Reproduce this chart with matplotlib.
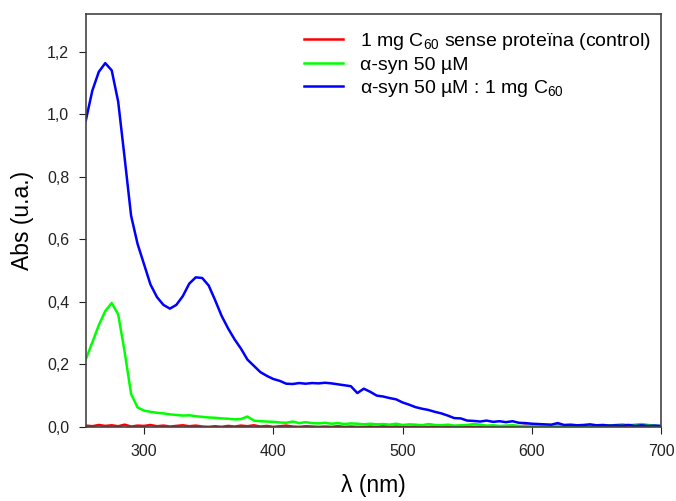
import numpy as np
import matplotlib
matplotlib.use("Agg")
import matplotlib.pyplot as plt
from matplotlib.ticker import FuncFormatter

plt.rcParams['font.family'] = ['Liberation Sans', 'DejaVu Sans']
plt.rcParams['mathtext.fontset'] = 'custom'
plt.rcParams['mathtext.rm'] = 'Liberation Sans'
plt.rcParams['mathtext.default'] = 'rm'

# wavelength grid (nm), 5 nm steps
wl = np.arange(255, 701, 5)

# C60 alone (control)
control = [0.004, 0.002, 0.006, 0.003, 0.005, 0.002, 0.007, 0.001, 0.004, 0.003,
           0.006, 0.002, 0.004, 0.001, 0.003, 0.005, 0.002, 0.004, 0.001, 0.0,
           0.002, 0.0, 0.003, 0.001, 0.004, 0.002, 0.005, 0.001, 0.003, 0.0,
           0.002, 0.004, 0.001, 0.0, 0.002, 0.001, 0.0, 0.001, 0.0, 0.002,
           0.0, 0.001, 0.0, 0.0, 0.001, 0.0, 0.002, 0.0, 0.001, 0.0,
           0.0, 0.001, 0.0, 0.0, 0.001, 0.0, 0.0, 0.002, 0.0, 0.001,
           0.0, 0.0, 0.001, 0.0, 0.0, 0.001, 0.003, 0.001, 0.004, 0.002,
           0.001, 0.003, 0.002, 0.004, 0.001, 0.002, 0.003, 0.001, 0.004, 0.002,
           0.003, 0.005, 0.002, 0.003, 0.001, 0.004, 0.002, 0.003, 0.001, 0.002]

# alpha-syn 50 uM
asyn = [0.216, 0.27, 0.325, 0.37, 0.396, 0.36, 0.24, 0.105, 0.062, 0.052,
        0.048, 0.045, 0.043, 0.04, 0.038, 0.036, 0.037, 0.034, 0.032, 0.03,
        0.029, 0.027, 0.026, 0.024, 0.025, 0.033, 0.02, 0.018, 0.017, 0.016,
        0.014, 0.013, 0.017, 0.012, 0.015, 0.012, 0.011, 0.013, 0.01, 0.012,
        0.009, 0.011, 0.01, 0.008, 0.01, 0.008, 0.009, 0.007, 0.01, 0.006,
        0.008, 0.007, 0.005, 0.009, 0.006, 0.005, 0.007, 0.004, 0.005, 0.006,
        0.009, 0.007, 0.004, 0.005, 0.003, 0.004, 0.005, 0.003, 0.002, 0.004,
        0.003, 0.002, 0.003, 0.004, 0.002, 0.003, 0.002, 0.004, 0.003, 0.002,
        0.005, 0.004, 0.006, 0.008, 0.005, 0.007, 0.009, 0.006, 0.004, 0.002]

# alpha-syn 50 uM + 1 mg C60
asyn_c60 = [0.98, 1.075, 1.135, 1.163, 1.14, 1.04, 0.86, 0.675, 0.585, 0.52,
            0.455, 0.415, 0.39, 0.378, 0.39, 0.418, 0.458, 0.478, 0.476, 0.452,
            0.405, 0.355, 0.315, 0.28, 0.25, 0.215, 0.195, 0.175, 0.163, 0.153,
            0.147, 0.138, 0.137, 0.14, 0.138, 0.14, 0.139, 0.141, 0.139, 0.136,
            0.133, 0.13, 0.108, 0.122, 0.112, 0.1, 0.097, 0.092, 0.088, 0.078,
            0.071, 0.063, 0.058, 0.054, 0.048, 0.043, 0.036, 0.028, 0.027, 0.02,
            0.019, 0.017, 0.02, 0.016, 0.018, 0.015, 0.018, 0.013, 0.012, 0.01,
            0.009, 0.008, 0.007, 0.012, 0.006, 0.007, 0.005, 0.006, 0.008, 0.005,
            0.006, 0.004, 0.005, 0.004, 0.006, 0.003, 0.005, 0.003, 0.004, 0.003]

labels = ['1 mg C$_{60}$ sense proteïna (control)',
          'α-syn 50 µM',
          'α-syn 50 µM : 1 mg C$_{60}$']
colors = ['#ff0000', '#00ff00', '#0000ff']

fig = plt.figure(figsize=(6.76, 5.01), dpi=100)
ax = fig.add_axes([0.127, 0.148, 0.851, 0.824])

for y, lab, c in zip([control, asyn, asyn_c60], labels, colors):
    ax.plot(wl, y, color=c, lw=1.8, label=lab)

ax.set_xlim(255, 700)
ax.set_ylim(0, 1.32)
ax.set_xticks([300, 400, 500, 600, 700])
ax.set_yticks([0, 0.2, 0.4, 0.6, 0.8, 1.0, 1.2])
ax.yaxis.set_major_formatter(FuncFormatter(lambda v, p: ('%.1f' % v).replace('.', ',')))
ax.tick_params(direction='out', length=5, labelsize=11.5, pad=7, top=False, right=False, colors='#222222')
for s in ax.spines.values():
    s.set_color('#444444')
    s.set_linewidth(1.2)

ax.set_xlabel('λ (nm)', fontsize=16.5, labelpad=11)
ax.set_ylabel('Abs (u.a.)', fontsize=16.5, labelpad=9)

ax.legend(loc='upper left', bbox_to_anchor=(0.449, 0.938), bbox_transform=fig.transFigure,
          frameon=False, fontsize=14, handlelength=2.05, handletextpad=0.85,
          labelspacing=0.22, borderpad=0, borderaxespad=0)

fig.savefig('out.png', dpi=100)
